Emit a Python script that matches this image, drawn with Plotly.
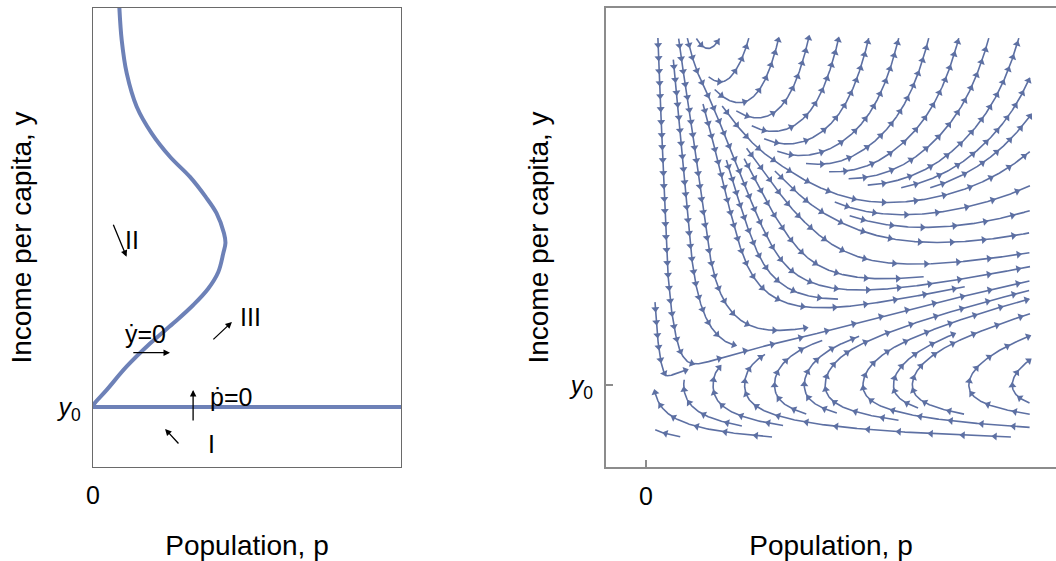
import numpy as np
import plotly.graph_objects as go

# ---------------- data ----------------
# Left panel: the y-dot = 0 isocline (population p, income per capita y)
ydot_p = [0.000, 0.010, 0.445, 1.094, 1.851, 2.607, 3.256, 3.744, 4.068, 4.231, 4.300, 4.253,
          4.010, 3.653, 3.149, 2.500, 1.906, 1.419, 1.094, 0.932, 0.854]
ydot_y = [1.307, 1.35, 1.68, 2.19, 2.69, 3.13, 3.53, 3.89, 4.25, 4.66, 4.88, 5.09,
          5.53, 5.89, 6.32, 6.76, 7.27, 7.85, 8.58, 9.30, 10.03]
Y0_LEFT = 1.307          # subsistence income y0 (left panel units)
PDOT_P = [0.0, 10.0]     # p-dot = 0 line spans the whole panel

# Right panel: y-dot = 0 isocline that shapes the stream field
Y0_RIGHT = 1.0
null_y = [0.00, 1.00, 1.15, 1.32, 1.42, 1.70, 2.02, 2.30, 2.45, 2.60, 2.68, 2.90, 3.10, 3.29, 3.60, 3.85, 4.07, 4.60]
null_p = [-1.00, 0.00, 0.36, 0.74, 1.09, 1.60, 2.30, 2.88, 2.92, 2.75, 2.60, 2.34, 1.94, 1.55, 1.20, 0.90, 0.71, 0.55]
# field constants
A_P, P_OFF, KAPPA, BETA_HI, BETA_LO = 1.37, 0.15, 0.9, 1.3, 4.5
# region covered by streamlines
P_MIN, P_MAX, Y_MIN, Y_MAX = 0.09, 3.84, 0.48, 4.47

BLUE_L = "#6d81b7"
BLUE_S = "#5d70a3"
FONT = "Liberation Sans, Arial, sans-serif"


# ---------------- stream field ----------------
def field(p, y):
    u = y - Y0_RIGHT
    g = np.interp(y, null_y, null_p)
    dp = A_P * (p + P_OFF) * u
    h = np.exp((BETA_HI if u > 0 else BETA_LO) * u)
    dy = (p - g) * h / (1.0 + KAPPA * p)
    return dp, dy


def direction(p, y):
    dp, dy = field(p, y)
    n = np.hypot(dp, dy)
    if n < 1e-9:
        return None
    return dp / n, dy / n


SEED_STEP = 0.3
DSEED = 0.15
DTEST = 0.08
H = 0.01
CELL = 0.1
grid = {}


def cell(p, y):
    return int(np.floor(p / CELL)), int(np.floor(y / CELL))


def min_dist(p, y, r):
    ci, cj = cell(p, y)
    k = int(np.ceil(r / CELL))
    best = 1e9
    for i in range(ci - k, ci + k + 1):
        for j in range(cj - k, cj + k + 1):
            for (a, b) in grid.get((i, j), ()):
                d = (a - p) ** 2 + (b - y) ** 2
                if d < best:
                    best = d
    return np.sqrt(best)


def inside(p, y):
    return P_MIN <= p <= P_MAX and Y_MIN <= y <= Y_MAX


def trace(p0, y0, sgn):
    pts = []
    p, y = p0, y0
    for _ in range(4000):
        d1 = direction(p, y)
        if d1 is None:
            break
        pm, ym = p + 0.5 * H * sgn * d1[0], y + 0.5 * H * sgn * d1[1]
        d2 = direction(pm, ym)
        if d2 is None or d1[0] * d2[0] + d1[1] * d2[1] < 0.3:
            break
        pn, yn = p + H * sgn * d2[0], y + H * sgn * d2[1]
        if not inside(pn, yn):
            break
        if min_dist(pn, yn, DTEST) < DTEST:
            break
        pts.append((pn, yn))
        p, y = pn, yn
    return pts


streams = []
seeds = [(p, y) for y in np.arange(Y_MAX - 0.03, Y_MIN, -SEED_STEP)
         for p in np.arange(P_MIN + 0.03, P_MAX, SEED_STEP)]
for sp, sy in seeds:
    if min_dist(sp, sy, DSEED) < DSEED:
        continue
    fwd = trace(sp, sy, 1)
    bwd = trace(sp, sy, -1)
    pts = bwd[::-1] + [(sp, sy)] + fwd
    if len(pts) < 20:
        continue
    for (a, b) in pts:
        grid.setdefault(cell(a, b), []).append((a, b))
    streams.append(pts)

# streamline polylines and arrowheads
sx, sy_ = [], []
ax_, ay_, ang = [], [], []
ARROW_GAP = 0.32
ANISO = 2.5
for pts in streams:
    arr = np.array(pts)
    sx.extend(arr[:, 0].tolist() + [None])
    sy_.extend(arr[:, 1].tolist() + [None])
    seg = np.hypot(np.diff(arr[:, 0]), ANISO * np.diff(arr[:, 1]))
    s = np.concatenate([[0.0], np.cumsum(seg)])
    target = ARROW_GAP * 0.5
    for i in range(1, len(arr)):
        if s[i] >= target:
            d = arr[i] - arr[i - 1]
            ax_.append(arr[i][0])
            ay_.append(arr[i][1])
            ang.append(float(np.degrees(np.arctan2(d[0], d[1]))))
            target += ARROW_GAP

# ---------------- figure ----------------
fig = go.Figure()

# left panel curves
fig.add_trace(go.Scatter(x=ydot_p, y=ydot_y, mode="lines",
                         line=dict(color=BLUE_L, width=4, shape="spline", smoothing=1.0),
                         hoverinfo="skip", showlegend=False, xaxis="x", yaxis="y"))
fig.add_trace(go.Scatter(x=PDOT_P, y=[Y0_LEFT, Y0_LEFT], mode="lines",
                         line=dict(color=BLUE_L, width=4),
                         hoverinfo="skip", showlegend=False, xaxis="x", yaxis="y"))

# right panel streams
fig.add_trace(go.Scatter(x=sx, y=sy_, mode="lines",
                         line=dict(color=BLUE_S, width=1.6),
                         hoverinfo="skip", showlegend=False, xaxis="x2", yaxis="y2"))
fig.add_trace(go.Scatter(x=ax_, y=ay_, mode="markers",
                         marker=dict(symbol="triangle-up", size=7, angle=ang, color=BLUE_S,
                                     line=dict(width=0)),
                         hoverinfo="skip", showlegend=False, xaxis="x2", yaxis="y2"))

# left panel labels and direction arrows
labels = [("II", 1.26, 4.95), ("ẏ=0", 1.72, 2.90), ("III", 5.10, 3.27),
          ("ṗ=0", 4.48, 1.53), ("I", 3.86, 0.50)]
arrows = [((0.64, 5.31), (1.09, 4.58)), ((1.26, 2.49), (2.50, 2.49)),
          ((3.86, 2.75), (4.51, 3.16)), ((3.25, 0.98), (3.25, 1.68)),
          ((2.82, 0.48), (2.34, 0.83))]
ann = []
for t, x, y in labels:
    ann.append(dict(text=t, x=x, y=y, xref="x", yref="y", showarrow=False,
                    font=dict(size=25, color="black", family=FONT)))
for (tx, ty), (hx, hy) in arrows:
    ann.append(dict(text="", x=hx, y=hy, ax=tx, ay=ty, xref="x", yref="y",
                    axref="x", ayref="y", showarrow=True, arrowhead=2, arrowsize=1,
                    arrowwidth=1.3, arrowcolor="black", standoff=0, startstandoff=0))

tickfont = dict(size=25, color="black", family=FONT)
titlefont = dict(size=28, color="black", family=FONT)
y0_txt = "<i>y</i><sub>0</sub>"

fig.update_layout(
    width=1056, height=561,
    margin=dict(l=0, r=0, t=8, b=94),
    paper_bgcolor="white", plot_bgcolor="white",
    font=dict(family=FONT),
    annotations=ann,
    xaxis=dict(domain=[93 / 1056, 401 / 1056], range=[0, 10], showgrid=False, zeroline=False,
               showline=True, linecolor="#6a6a6a", linewidth=1.3, mirror=True,
               tickvals=[0], ticktext=["0"], ticks="", tickfont=tickfont,
               ticklabelstandoff=6, automargin=False,
               title=dict(text="Population, p", font=titlefont, standoff=32)),
    yaxis=dict(domain=[0, 1], range=[0, 10], showgrid=False, zeroline=False,
               showline=True, linecolor="#6a6a6a", linewidth=1.3, mirror=True,
               tickvals=[Y0_LEFT], ticktext=[y0_txt], ticks="", tickfont=tickfont,
               ticklabelstandoff=6, automargin=False,
               title=dict(text="Income per capita, y", font=titlefont, standoff=16)),
    xaxis2=dict(domain=[606 / 1056, 1.0], range=[-0.40, 4.10], anchor="y2", showgrid=False,
                zeroline=False, showline=True, linecolor="#8c8c8c", linewidth=2, mirror=True,
                tickvals=[0], ticktext=["0"], ticks="inside", ticklen=7, tickwidth=1.5,
                tickcolor="#8c8c8c", tickfont=tickfont, ticklabelstandoff=6, automargin=False,
                title=dict(text="Population, p", font=titlefont, standoff=32)),
    yaxis2=dict(domain=[0, 1], range=[0.18, 4.77], anchor="x2", showgrid=False,
                zeroline=False, showline=True, linecolor="#8c8c8c", linewidth=2, mirror=False,
                tickvals=[Y0_RIGHT], ticktext=[y0_txt], ticks="inside", ticklen=7, tickwidth=1.5,
                tickcolor="#8c8c8c", tickfont=tickfont, ticklabelstandoff=6, automargin=False,
                title=dict(text="Income per capita, y", font=titlefont, standoff=12)),
)

fig.write_html("out.html", config={"displayModeBar": False},
               post_script="document.body.style.margin='0px';"
                           "document.body.style.overflow='hidden';")
